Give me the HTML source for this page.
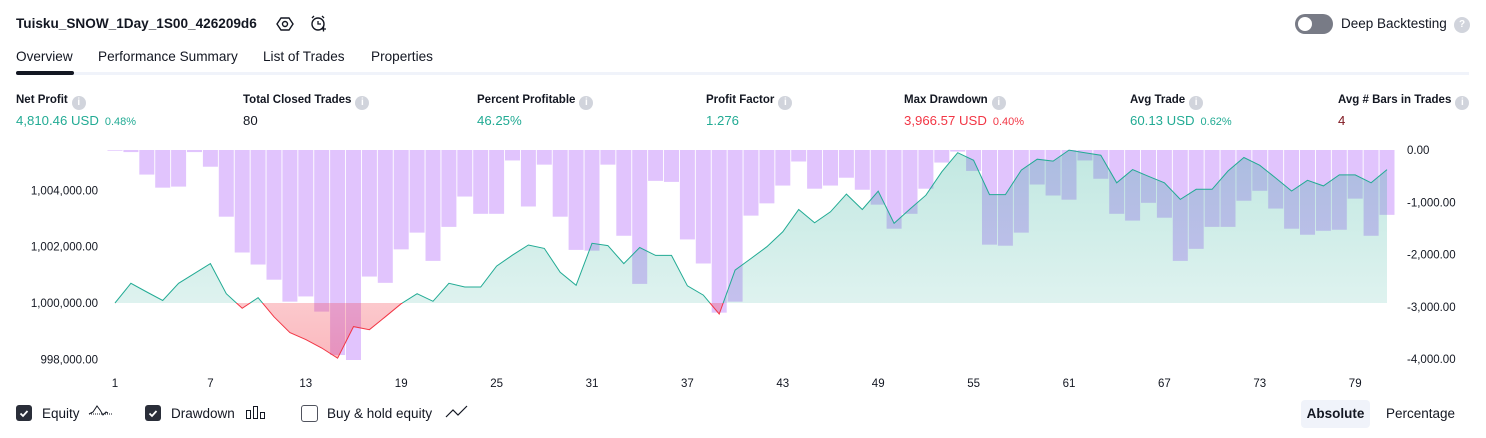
<!DOCTYPE html>
<html><head><meta charset="utf-8">
<style>
body{margin:0;width:1486px;height:438px;background:#fff;font-family:"Liberation Sans",sans-serif;color:#131722;position:relative;overflow:hidden}
.a{position:absolute;white-space:nowrap}
.lbl{font-size:11.5px;font-weight:bold;color:#131722}
.val{font-size:13.2px}
.g{color:#22ab94}.r{color:#f23645}.dr{color:#801922}
.info{display:inline-block;width:14px;height:14px;border-radius:50%;background:#d1d4dc;color:#fff;font-size:10px;text-align:center;line-height:14px;vertical-align:-2px;margin-left:4px;font-weight:bold}
.pct{font-size:11px;margin-left:6px}
.tab{font-size:13.6px;top:49px}
.cb{width:16px;height:16px;border-radius:3px;top:405px}
</style></head><body>
<div class="a" style="left:16px;top:16px;font-size:13.6px;font-weight:bold">Tuisku_SNOW_1Day_1S00_426209d6</div>
<svg class="a" style="left:276px;top:15px" width="18" height="18"><polygon points="5,3 13,3 17,9 13,15 5,15 1,9" fill="none" stroke="#131722" stroke-width="1.4"/><circle cx="9" cy="9" r="2.5" fill="none" stroke="#131722" stroke-width="1.4"/></svg>
<svg class="a" style="left:309px;top:14px" width="18" height="20"><circle cx="9" cy="10" r="6" fill="none" stroke="#131722" stroke-width="1.4"/><path d="M9 7v3h3M3 4l2-2M15 4l-2-2M12 15h5M14.5 12.5v5" stroke="#131722" stroke-width="1.3" fill="none"/></svg>
<div class="a" style="left:1295px;top:14px;width:38px;height:20px;border-radius:10px;background:#787b86"><div style="position:absolute;left:3px;top:3px;width:14px;height:14px;border-radius:50%;background:#fff"></div></div>
<div class="a" style="left:1341px;top:16px;font-size:13.5px">Deep Backtesting</div>
<div class="a info" style="left:1454px;top:17px;width:16px;height:16px;line-height:16px;margin:0">?</div>

<div class="a tab" style="left:16px">Overview</div>
<div class="a tab" style="left:98px">Performance Summary</div>
<div class="a tab" style="left:263px">List of Trades</div>
<div class="a tab" style="left:371px">Properties</div>
<div class="a" style="left:16px;top:72px;width:1453px;height:3px;background:#f0f3fa"></div>
<div class="a" style="left:16px;top:71px;width:58px;height:4px;border-radius:2px;background:#131722"></div>

<div class="a lbl" style="left:16px;top:94px">Net Profit<span class="info">i</span></div>
<div class="a val g" style="left:16px;top:113px">4,810.46 USD<span class="pct">0.48%</span></div>
<div class="a lbl" style="left:243px;top:94px">Total Closed Trades<span class="info">i</span></div>
<div class="a val" style="left:243px;top:113px">80</div>
<div class="a lbl" style="left:477px;top:94px">Percent Profitable<span class="info">i</span></div>
<div class="a val g" style="left:477px;top:113px">46.25%</div>
<div class="a lbl" style="left:706px;top:94px">Profit Factor<span class="info">i</span></div>
<div class="a val g" style="left:706px;top:113px">1.276</div>
<div class="a lbl" style="left:904px;top:94px">Max Drawdown<span class="info">i</span></div>
<div class="a val r" style="left:904px;top:113px">3,966.57 USD<span class="pct">0.40%</span></div>
<div class="a lbl" style="left:1130px;top:94px">Avg Trade<span class="info">i</span></div>
<div class="a val g" style="left:1130px;top:113px">60.13 USD<span class="pct">0.62%</span></div>
<div class="a lbl" style="left:1338px;top:94px">Avg # Bars in Trades<span class="info">i</span></div>
<div class="a val dr" style="left:1338px;top:113px">4</div>

<svg id="chart" class="a" style="left:0;top:0" width="1486" height="438">
<defs>
<linearGradient id="gg" x1="0" y1="0" x2="0" y2="1"><stop offset="0" stop-color="#22ab94" stop-opacity="0.28"/><stop offset="1" stop-color="#22ab94" stop-opacity="0.1"/></linearGradient>
<linearGradient id="rg" x1="0" y1="0" x2="0" y2="1"><stop offset="0" stop-color="#f23645" stop-opacity="0.05"/><stop offset="1" stop-color="#f23645" stop-opacity="0.35"/></linearGradient>
<clipPath id="above"><rect x="0" y="0" width="1486" height="303"/></clipPath>
<clipPath id="below"><rect x="0" y="303" width="1486" height="135"/></clipPath>
</defs>
<g id="bars"></g><g id="area"></g><g id="axes"></g>
</svg>

<div class="a cb" style="left:16px;background:#2a2e39"><svg width="16" height="16"><path d="M4.5 8.5l2.5 2.5 4.5-5" stroke="#fff" stroke-width="1.8" fill="none"/></svg></div>
<div class="a" style="left:42px;top:406px;font-size:13.5px">Equity</div>
<svg class="a" style="left:88px;top:404px" width="26" height="16"><path d="M1 10l4-2 4-6 3 4 3 5 3-3 2 1" stroke="#131722" fill="none"/><path d="M1 10h24" stroke="#131722" stroke-dasharray="1 1"/></svg>
<div class="a cb" style="left:145px;background:#2a2e39"><svg width="16" height="16"><path d="M4.5 8.5l2.5 2.5 4.5-5" stroke="#fff" stroke-width="1.8" fill="none"/></svg></div>
<div class="a" style="left:171px;top:406px;font-size:13.5px">Drawdown</div>
<svg class="a" style="left:245px;top:406px" width="22" height="14"><rect x="1.5" y="4.5" width="4" height="8" fill="none" stroke="#131722"/><rect x="8.5" y="0.5" width="4" height="12" fill="none" stroke="#131722"/><rect x="15.5" y="6.5" width="4" height="6" fill="none" stroke="#131722"/></svg>
<div class="a cb" style="left:301px;width:15px;height:15px;border:1px solid #50535e;background:#fff"></div>
<div class="a" style="left:327px;top:406px;font-size:13.5px">Buy &amp; hold equity</div>
<svg class="a" style="left:445px;top:404px" width="24" height="16"><path d="M1 13l7-7 5 5 9-9" stroke="#131722" fill="none" stroke-width="1.2"/></svg>
<div class="a" style="left:1301px;top:400px;width:69px;height:28px;border-radius:4px;background:#f0f3fa;font-size:13.5px;font-weight:bold;text-align:center;line-height:28px">Absolute</div>
<div class="a" style="left:1386px;top:406px;font-size:13.5px">Percentage</div>

<script>
const equity=[0,700,390,90,700,1050,1400,330,-190,190,-490,-1050,-1300,-1600,-1960,-840,-950,-490,-25,330,60,700,570,570,1310,1700,2060,1940,1090,630,2120,2040,1400,1970,1690,1690,610,280,-390,1170,1580,2000,2530,3320,2850,3240,3870,3320,3970,2830,3340,3830,4660,5340,5070,3850,3850,4720,5110,5040,5430,5340,5250,4270,4740,4500,4270,3680,4040,4040,4690,5170,4890,4440,3980,4360,4160,4550,4550,4270,4740];
const drawdown=[-13,-40,-470,-720,-700,-40,-320,-1275,-1960,-2190,-2480,-2900,-2800,-3090,-3920,-4015,-2420,-2540,-1900,-1580,-2120,-1470,-890,-1220,-1220,-200,-1080,-280,-1275,-1910,-1925,-280,-1640,-2560,-590,-610,-1710,-2170,-3110,-2900,-1255,-1020,-680,-220,-740,-680,-530,-760,-1045,-1505,-1220,-740,-240,-30,-400,-1810,-1830,-1580,-660,-870,-950,-200,-550,-1220,-1350,-1010,-1295,-2120,-1890,-1470,-1470,-970,-780,-1120,-1505,-1620,-1545,-1525,-930,-1640,-1240];
const xTicks=[1,7,13,19,25,31,37,43,49,55,61,67,73,79];
const leftTicks=[1004000,1002000,1000000,998000];
const rightTicks=[0,-1000,-2000,-3000,-4000];
const leftLabels=["1,004,000.00","1,002,000.00","1,000,000.00","998,000.00"];
const rightLabels=["0.00","-1,000.00","-2,000.00","-3,000.00","-4,000.00"];

const NS="http://www.w3.org/2000/svg";
const x=i=>115+(i-1)*15.9;
const yL=v=>303-(v-1000000)*0.02815;
const yR=v=>150-v*0.0523;
const yE=e=>yL(1000000+e);
function mk(t,a,p){const el=document.createElementNS(NS,t);for(const k in a)el.setAttribute(k,a[k]);p.appendChild(el);return el;}
const gb=document.getElementById('bars'),ga=document.getElementById('area'),gx=document.getElementById('axes');
drawdown.forEach((d,i)=>{
  const b=mk('rect',{x:x(i+1)-7.5,y:yR(0),width:15,height:Math.max(0.7,yR(d)-yR(0)),fill:'#e1c4fd'},gb);
  
  
});
const pts=equity.map((e,i)=>x(i+1).toFixed(1)+','+yE(e).toFixed(1));
const base=yE(0);
const poly='M'+x(1)+','+base+' L'+pts.join(' L')+' L'+x(equity.length)+','+base+' Z';
const ag=mk('path',{d:poly,fill:'url(#gg)','clip-path':'url(#above)'},ga);


const ar=mk('path',{d:poly,fill:'url(#rg)','clip-path':'url(#below)'},ga);


const line='M'+pts.join(' L');
const lg=mk('path',{d:line,fill:'none',stroke:'#22ab94','stroke-width':1,'clip-path':'url(#above)'},ga);


const lr=mk('path',{d:line,fill:'none',stroke:'#f23645','stroke-width':1,'clip-path':'url(#below)'},ga);


xTicks.forEach(t=>{
  const el=mk('text',{x:x(t),y:387,'text-anchor':'middle','font-size':11.5,fill:'#131722'},gx);el.textContent=t;
  
  
});
leftTicks.forEach((t,i)=>{
  const el=mk('text',{x:98,y:yL(t)+4,'text-anchor':'end','font-size':11.5,fill:'#131722'},gx);el.textContent=leftLabels[i];
  
  
});
rightTicks.forEach((t,i)=>{
  const el=mk('text',{x:1407,y:yR(t)+4,'font-size':11.5,fill:'#131722'},gx);el.textContent=rightLabels[i];
  
  
});
</script>
</body></html>
